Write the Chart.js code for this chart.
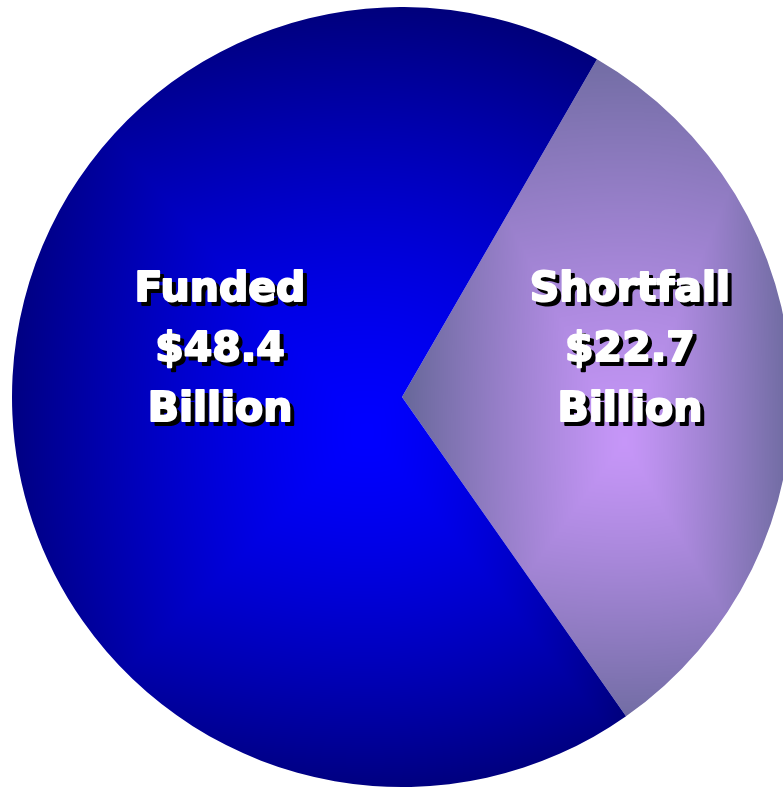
<!DOCTYPE html>
<html><head><meta charset="utf-8">
<script src="https://cdn.jsdelivr.net/npm/chart.js@4"></script>
<style>
html,body{margin:0;padding:0;background:#fff;overflow:hidden;width:783px;height:788px;}
#wrap{position:absolute;left:12px;top:7px;width:780px;height:780px;}
</style></head><body>
<div id="wrap"><canvas id="c"></canvas></div>
<script>
const categories = ["Shortfall", "Funded"];
const values = [22.7, 48.4];
const labelLines = [["Shortfall", "$22.7", "Billion"], ["Funded", "$48.4", "Billion"]];

// gradient styles (relative to pie centre, px)
const gradStyles = [
  {cx: 222, cy: 45, left: 220, right: 175, up: 420, down: 300, inner: [198,150,248], outer: [104,104,154], pow: 1.2, rect: 0.85},
  {cx: -35, cy: 35, left: 375, right: 300, up: 435, down: 370, inner: [0,0,255], outer: [0,0,120], pow: 1.45, rect: 0.6}
];

const patCache = {};
function makePattern(chart, i) {
  const a = chart.chartArea;
  if (!a || !(a.right > a.left)) return null;
  const cxp = (a.left + a.right) / 2, cyp = (a.top + a.bottom) / 2;
  const key = i + ':' + cxp + ':' + cyp;
  if (patCache[key]) return patCache[key];
  const W = Math.ceil(chart.width), H = Math.ceil(chart.height);
  const off = document.createElement('canvas');
  off.width = W; off.height = H;
  const octx = off.getContext('2d');
  const img = octx.createImageData(W, H);
  const s = gradStyles[i];
  const gx = cxp + s.cx, gy = cyp + s.cy;
  for (let y = 0; y < H; y++) {
    for (let x = 0; x < W; x++) {
      const dx = x - gx, dy = y - gy;
      const nx = dx < 0 ? -dx / s.left : dx / s.right;
      const ny = dy < 0 ? -dy / s.up : dy / s.down;
      const te = Math.sqrt(nx*nx + ny*ny);
      const tr = Math.max(nx, ny);
      let t = Math.min(1, s.rect * tr + (1 - s.rect) * te);
      t = Math.pow(t, s.pow);
      const p = (y * W + x) * 4;
      img.data[p]   = s.inner[0] + (s.outer[0] - s.inner[0]) * t;
      img.data[p+1] = s.inner[1] + (s.outer[1] - s.inner[1]) * t;
      img.data[p+2] = s.inner[2] + (s.outer[2] - s.inner[2]) * t;
      img.data[p+3] = 255;
    }
  }
  octx.putImageData(img, 0, 0);
  const pat = chart.ctx.createPattern(off, 'no-repeat');
  patCache[key] = pat;
  return pat;
}

const fallback = ['#9a80d0', '#0000c0'];

const labelPlugin = {
  id: 'sliceLabels',
  afterDatasetsDraw(chart) {
    const ctx = chart.ctx;
    const meta = chart.getDatasetMeta(0);
    const radFrac = [0.585, 0.467];
    ctx.save();
    ctx.font = 'bold 41px "DejaVu Sans", Verdana, sans-serif';
    ctx.textAlign = 'center';
    ctx.textBaseline = 'alphabetic';
    ctx.lineJoin = 'round';
    ctx.lineWidth = 2;
    meta.data.forEach((arc, i) => {
      const mid = (arc.startAngle + arc.endAngle) / 2;
      const x = arc.x + Math.cos(mid) * arc.outerRadius * radFrac[i];
      const yc = arc.y - 50;
      const lines = labelLines[i];
      const lh = 60;
      lines.forEach((ln, k) => {
        const by = yc + 14 + (k - 1) * lh;
        ctx.fillStyle = '#000'; ctx.strokeStyle = '#000';
        ctx.strokeText(ln, x + 4, by + 4);
        ctx.fillText(ln, x + 4, by + 4);
        ctx.fillStyle = '#fff'; ctx.strokeStyle = '#fff';
        ctx.strokeText(ln, x, by);
        ctx.fillText(ln, x, by);
      });
    });
    ctx.restore();
  }
};

new Chart(document.getElementById('c'), {
  type: 'pie',
  data: {
    labels: categories,
    datasets: [{
      data: values,
      backgroundColor: (c) => makePattern(c.chart, c.dataIndex) || fallback[c.dataIndex],
      borderWidth: 0,
      hoverOffset: 0
    }]
  },
  options: {
    responsive: true,
    maintainAspectRatio: false,
    animation: false,
    devicePixelRatio: 1,
    rotation: 30,
    layout: {padding: 0},
    plugins: {legend: {display: false}, tooltip: {enabled: false}, title: {display: false}}
  },
  plugins: [labelPlugin]
});
</script>
</body></html>
